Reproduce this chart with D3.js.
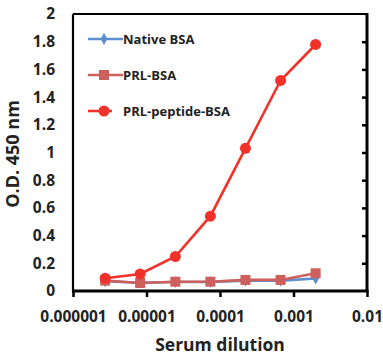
<!DOCTYPE html>
<html>
<head>
<meta charset="utf-8">
<script src="https://cdn.jsdelivr.net/npm/d3@7"></script>
<style>
  body { margin: 0; background: #fff; }
  text { font-family: "Open Sans", sans-serif; font-weight: bold; fill: #222; }
</style>
</head>
<body>
<svg id="chart" width="383" height="356"></svg>
<script>
// ---- data ----
const dilutions = [0.00000274, 0.0000082, 0.0000247, 0.000074, 0.000222, 0.000667, 0.002];
const nativeBSA = [0.07, 0.06, 0.065, 0.065, 0.075, 0.075, 0.09];
const prlBSA = [0.075, 0.058, 0.067, 0.067, 0.08, 0.08, 0.128];
const prlPeptideBSA = [0.092, 0.123, 0.249, 0.54, 1.03, 1.52, 1.78];
const seriesNames = ["Native BSA", "PRL-BSA", "PRL-peptide-BSA"];
const xTickValues = [0.000001, 0.00001, 0.0001, 0.001, 0.01];
const xTickLabels = ["0.000001", "0.00001", "0.0001", "0.001", "0.01"];
const yTickValues = [0, 0.2, 0.4, 0.6, 0.8, 1, 1.2, 1.4, 1.6, 1.8, 2];
const yTickLabels = ["0", "0.2", "0.4", "0.6", "0.8", "1", "1.2", "1.4", "1.6", "1.8", "2"];

const colors = ["#5b8fd0", "#cd5f5c", "#f0322a"];

const svg = d3.select("#chart");
const mLeft = 73, mRight = 367, mTop = 14, mBottom = 291;

const x = d3.scaleLog().domain([1e-6, 1e-2]).range([mLeft, mRight]);
const y = d3.scaleLinear().domain([0, 2]).range([mBottom, mTop]);

// x axis ticks & labels
const xAxis = svg.append("g").attr("transform", `translate(0,${mBottom})`)
  .call(d3.axisBottom(x).tickValues(xTickValues)
    .tickFormat((d, i) => xTickLabels[i]).tickSize(6).tickPadding(14));
xAxis.select(".domain").remove();
xAxis.selectAll("line").attr("stroke", "#000").attr("stroke-width", 2.5);
xAxis.selectAll("text").style("font-size", "15.5px").attr("fill", "#222");

// y axis labels (no ticks on left)
const yAxis = svg.append("g").attr("transform", `translate(${mLeft},0)`)
  .call(d3.axisLeft(y).tickValues(yTickValues)
    .tickFormat((d, i) => yTickLabels[i]).tickSize(0).tickPadding(18));
yAxis.select(".domain").remove();
yAxis.selectAll("text").style("font-size", "15.5px").attr("fill", "#222");

// right inward ticks
const rAxis = svg.append("g").attr("transform", `translate(${mRight},0)`)
  .call(d3.axisLeft(y).tickValues(yTickValues.slice(1, -1)).tickSize(5).tickFormat(""));
rAxis.select(".domain").remove();
rAxis.selectAll("line").attr("stroke", "#000").attr("stroke-width", 2.5);

// frame
svg.append("path")
  .attr("d", `M${mLeft},${mTop}H${mRight}`).attr("stroke", "#000").attr("stroke-width", 2).attr("fill", "none");
svg.append("path")
  .attr("d", `M${mLeft},${mTop}V${mBottom}`).attr("stroke", "#000").attr("stroke-width", 2.2).attr("fill", "none");
svg.append("path")
  .attr("d", `M${mLeft - 1},${mBottom}H${mRight + 1.5}`).attr("stroke", "#000").attr("stroke-width", 3).attr("fill", "none");
svg.append("path")
  .attr("d", `M${mRight},${mTop - 1}V${mBottom}`).attr("stroke", "#000").attr("stroke-width", 3).attr("fill", "none");

// series
const data = [nativeBSA, prlBSA, prlPeptideBSA].map((vals, k) => ({
  name: seriesNames[k], color: colors[k],
  points: vals.map((v, i) => ({ x: dilutions[i], y: v }))
}));
const line = d3.line().x(d => x(d.x)).y(d => y(d.y));

const drawMarker = (g, k, cx, cy) => {
  if (k === 0) {
    g.append("path").attr("d", d3.symbol(d3.symbolDiamond, 40)())
      .attr("transform", `translate(${cx},${cy})`).attr("fill", colors[k]);
  } else if (k === 1) {
    g.append("rect").attr("x", cx - 5).attr("y", cy - 5).attr("width", 10).attr("height", 10)
      .attr("fill", colors[k]);
  } else {
    g.append("circle").attr("cx", cx).attr("cy", cy).attr("r", 5.5).attr("fill", colors[k]);
  }
};

data.forEach((s, k) => {
  const g = svg.append("g");
  g.append("path").datum(s.points).attr("d", line)
    .attr("fill", "none").attr("stroke", s.color).attr("stroke-width", 2.6);
  s.points.forEach(p => drawMarker(g, k, x(p.x), y(p.y)));
});

// legend
const legendY = [39, 75, 111];
data.forEach((s, k) => {
  const g = svg.append("g");
  g.append("line").attr("x1", 88).attr("x2", k === 2 ? 112 : 123)
    .attr("y1", legendY[k]).attr("y2", legendY[k])
    .attr("stroke", s.color).attr("stroke-width", 2.6);
  drawMarker(g, k, 104, legendY[k]);
  g.append("text").attr("x", 123).attr("y", legendY[k]).attr("dy", "0.35em")
    .style("font-size", "13px").text(s.name);
});

// axis titles
svg.append("text").attr("x", (mLeft + mRight) / 2).attr("y", 345).attr("dy", "0.35em")
  .attr("text-anchor", "middle").style("font-size", "17.5px").text("Serum dilution");
svg.append("text").attr("transform", `translate(13,154) rotate(-90)`).attr("dy", "0.35em")
  .attr("text-anchor", "middle").style("font-size", "18px").text("O.D. 450 nm");
</script>
</body>
</html>
